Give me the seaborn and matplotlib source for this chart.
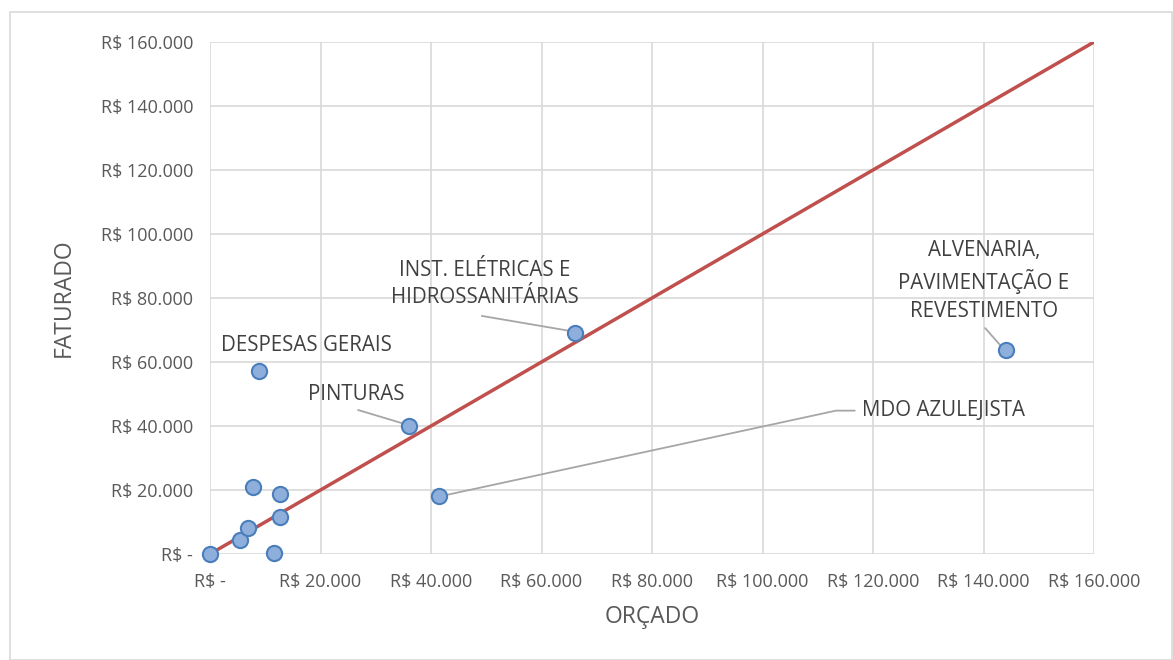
import matplotlib
matplotlib.use("Agg")
import matplotlib.pyplot as plt
import seaborn as sns
import pandas as pd
from matplotlib.patches import Rectangle

orcado = [0, 5400, 6800, 7800, 8900, 11600, 12700, 12700, 36000, 41500, 66000, 144000]
faturado = [0, 4400, 8100, 21000, 57100, 200, 11500, 18700, 40000, 18000, 69000, 63600]
ref_line = [0, 160000]
ticks = [0, 20000, 40000, 60000, 80000, 100000, 120000, 140000, 160000]

labels = ["DESPESAS GERAIS", "PINTURAS", "INST. ELÉTRICAS E\nHIDROSSANITÁRIAS",
          "ALVENARIA,\nPAVIMENTAÇÃO E\nREVESTIMENTO", "MDO AZULEJISTA"]
label_pos = [(17400, 65300), (26400, 50000), (49800, 84400), (140100, 85300), (118000, 44800)]
label_ha = ["center", "center", "center", "center", "left"]
# leader lines (label side -> point side)
leaders = [
    None,
    ([26800, 35300], [45000, 40600]),
    ([49200, 65200], [74400, 69700]),
    ([140300, 143000], [70600, 65300]),
    ([42400, 113300, 116700], [18300, 44800, 44800]),
]

df = pd.DataFrame({"ORÇADO": orcado, "FATURADO": faturado})

sns.set_style("white")
plt.rcParams["font.family"] = ["Open Sans", "DejaVu Sans"]
fig = plt.figure(figsize=(11.73, 6.6), dpi=100)
ax = fig.add_axes([210/1173, 1-554/660, (1094-210)/1173, (554-42)/660])

fig.patches.append(Rectangle((10/1173, 0), 1-10/1173-0.001, 1-12/660, transform=fig.transFigure,
                             fill=False, edgecolor="#d9d9d9", linewidth=1.2))

sns.lineplot(x=ref_line, y=ref_line, ax=ax, color="#c0504d", linewidth=2.5, zorder=2)
sns.scatterplot(data=df, x="ORÇADO", y="FATURADO", ax=ax, s=120, color="#8eaedb",
                edgecolor="#4a7ebb", linewidth=1.5, zorder=3, clip_on=False)

ax.set_xlim(0, 160000)
ax.set_ylim(0, 160000)
ax.set_xticks(ticks)
ax.set_yticks(ticks)
fmt = lambda v: "R$ -" if v == 0 else "R$ " + f"{int(v):,}".replace(",", ".")
ax.set_xticklabels([fmt(t) for t in ticks])
ax.set_yticklabels([fmt(t) for t in ticks])
ax.tick_params(axis="both", colors="#595959", labelsize=13, length=0)
ax.tick_params(axis="x", pad=14)
ax.tick_params(axis="y", pad=12)
ax.grid(True, color="#d9d9d9", linewidth=1.2)
for s in ax.spines.values():
    s.set_visible(False)
ax.set_axisbelow(True)
ax.set_xlabel("ORÇADO", fontsize=16.5, color="#595959", labelpad=10)
ax.set_ylabel("FATURADO", fontsize=16.5, color="#595959", labelpad=18)

for lab, (lx, ly), ha, ld in zip(labels, label_pos, label_ha, leaders):
    ax.text(lx, ly, lab, ha=ha, va="center", fontsize=14.8, color="#404040",
            linespacing=1.4, multialignment="center")
    if ld is not None:
        ax.plot(ld[0], ld[1], color="#a6a6a6", lw=1.3, zorder=1.5)

fig.savefig("out.png", dpi=100)
